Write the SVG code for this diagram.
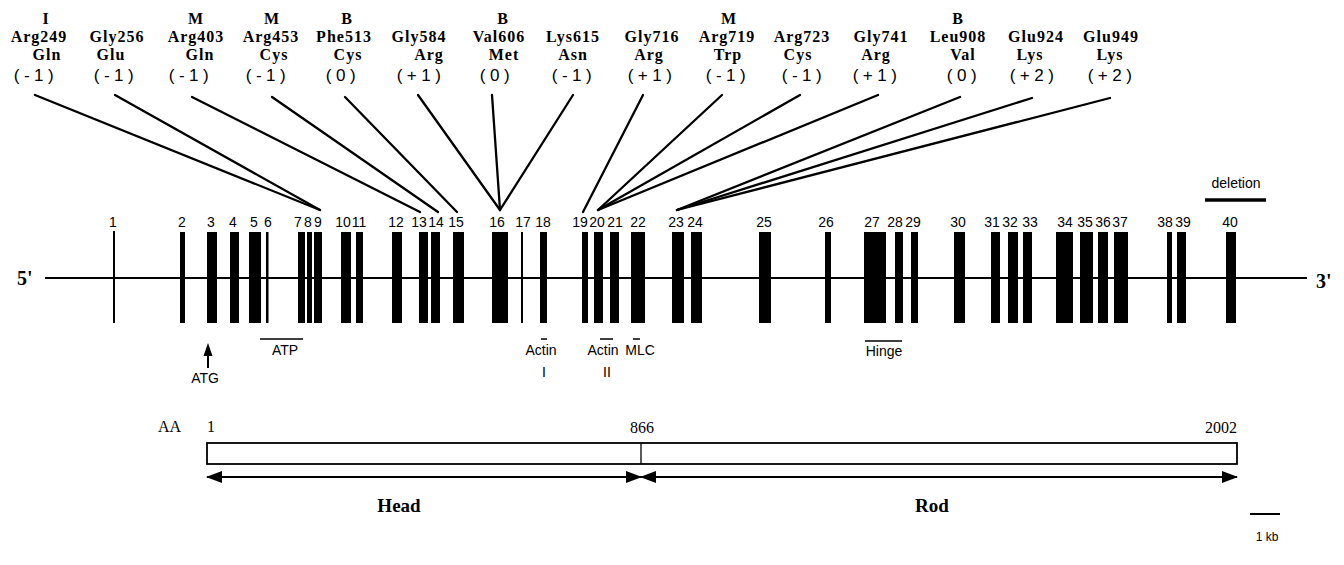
<svg xmlns="http://www.w3.org/2000/svg" width="1344" height="565" viewBox="0 0 1344 565">
<style>
.mut{font-family:"Liberation Serif","Times New Roman",serif;font-weight:bold;font-size:16px;letter-spacing:1px;text-anchor:middle;fill:#000}
.chg{font-family:"Liberation Sans",Arial,sans-serif;font-size:17px;letter-spacing:4.5px;text-anchor:middle;fill:#000}
.num{font-family:"Liberation Sans",Arial,sans-serif;font-size:14px;text-anchor:middle;fill:#000}
.lab{font-family:"Liberation Sans",Arial,sans-serif;font-size:14px;text-anchor:middle;fill:#000}
.end{font-family:"Liberation Serif","Times New Roman",serif;font-weight:bold;font-size:20px;fill:#000}
.aa{font-family:"Liberation Serif","Times New Roman",serif;font-size:16px;fill:#000}
.dom{font-family:"Liberation Serif","Times New Roman",serif;font-weight:bold;font-size:19px;text-anchor:middle;fill:#000}
.con{stroke:#000;stroke-width:2.3;fill:none;stroke-linecap:round}
.ex{fill:#000}
.ol{stroke:#000;stroke-width:1.5}
</style>
<defs>
<marker id="ah" viewBox="0 0 16 12" refX="15" refY="6" markerWidth="16" markerHeight="12" markerUnits="userSpaceOnUse" orient="auto-start-reverse">
<path d="M0,0 L16,6 L0,12 Z" fill="#000"/>
</marker>
</defs>

<!-- mutation labels -->
<g id="m1"><text class="mut" x="46" y="24">I</text><text class="mut" x="39" y="42">Arg249</text><text class="mut" x="47" y="60">Gln</text><text class="chg" x="36" y="81">(-1)</text></g>
<g id="m2"><text class="mut" x="117" y="42">Gly256</text><text class="mut" x="111" y="60">Glu</text><text class="chg" x="116" y="81">(-1)</text></g>
<g id="m3"><text class="mut" x="196" y="24">M</text><text class="mut" x="196" y="42">Arg403</text><text class="mut" x="200" y="60">Gln</text><text class="chg" x="191" y="81">(-1)</text></g>
<g id="m4"><text class="mut" x="272" y="24">M</text><text class="mut" x="271" y="42">Arg453</text><text class="mut" x="274" y="60">Cys</text><text class="chg" x="268" y="81">(-1)</text></g>
<g id="m5"><text class="mut" x="347" y="24">B</text><text class="mut" x="344" y="42">Phe513</text><text class="mut" x="348" y="60">Cys</text><text class="chg" x="343" y="81">(0)</text></g>
<g id="m6"><text class="mut" x="419" y="42">Gly584</text><text class="mut" x="429" y="60">Arg</text><text class="chg" x="421" y="81">(+1)</text></g>
<g id="m7"><text class="mut" x="503" y="24">B</text><text class="mut" x="499" y="42">Val606</text><text class="mut" x="504" y="60">Met</text><text class="chg" x="497" y="81">(0)</text></g>
<g id="m8"><text class="mut" x="573" y="42">Lys615</text><text class="mut" x="573" y="60">Asn</text><text class="chg" x="574" y="81">(-1)</text></g>
<g id="m9"><text class="mut" x="652" y="42">Gly716</text><text class="mut" x="649" y="60">Arg</text><text class="chg" x="652" y="81">(+1)</text></g>
<g id="m10"><text class="mut" x="729" y="24">M</text><text class="mut" x="727" y="42">Arg719</text><text class="mut" x="728" y="60">Trp</text><text class="chg" x="728" y="81">(-1)</text></g>
<g id="m11"><text class="mut" x="802" y="42">Arg723</text><text class="mut" x="798" y="60">Cys</text><text class="chg" x="804" y="81">(-1)</text></g>
<g id="m12"><text class="mut" x="881" y="42">Gly741</text><text class="mut" x="876" y="60">Arg</text><text class="chg" x="877" y="81">(+1)</text></g>
<g id="m13"><text class="mut" x="958" y="24">B</text><text class="mut" x="958" y="42">Leu908</text><text class="mut" x="963" y="60">Val</text><text class="chg" x="964" y="81">(0)</text></g>
<g id="m14"><text class="mut" x="1036" y="42">Glu924</text><text class="mut" x="1030" y="60">Lys</text><text class="chg" x="1034" y="81">(+2)</text></g>
<g id="m15"><text class="mut" x="1111" y="42">Glu949</text><text class="mut" x="1110" y="60">Lys</text><text class="chg" x="1112" y="81">(+2)</text></g>

<!-- connectors -->
<g id="connectors" class="con">
<line x1="35" y1="95" x2="320" y2="210"/>
<line x1="115" y1="95" x2="320" y2="210"/>
<line x1="192" y1="97" x2="420" y2="212"/>
<line x1="272" y1="97" x2="438" y2="212"/>
<line x1="345" y1="97" x2="457" y2="212"/>
<line x1="418" y1="95" x2="500" y2="210"/>
<line x1="492" y1="95" x2="500" y2="210"/>
<line x1="573" y1="95" x2="500" y2="210"/>
<line x1="643" y1="95" x2="583" y2="212"/>
<line x1="722" y1="95" x2="598" y2="210"/>
<line x1="800" y1="95" x2="598" y2="210"/>
<line x1="878" y1="95" x2="598" y2="210"/>
<line x1="960" y1="97" x2="677" y2="210"/>
<line x1="1032" y1="98" x2="677" y2="210"/>
<line x1="1110" y1="98" x2="677" y2="210"/>
</g>

<!-- gene -->
<g id="gene">
<text class="end" x="17" y="285">5'</text>
<text class="end" x="1316" y="288">3'</text>
<line x1="45" y1="278" x2="1307" y2="278" stroke="#000" stroke-width="2"/>
</g>

<g id="exons">
<rect class="ex" x="113" y="231" width="2" height="92"/>
<rect class="ex" x="180" y="232" width="5" height="91"/>
<rect class="ex" x="207" y="232" width="10" height="91"/>
<rect class="ex" x="230" y="232" width="9" height="91"/>
<rect class="ex" x="249" y="232" width="12" height="91"/>
<rect class="ex" x="266" y="232" width="2.5" height="91"/>
<rect class="ex" x="298" y="232" width="7" height="91"/>
<rect class="ex" x="307" y="232" width="5" height="91"/>
<rect class="ex" x="314" y="232" width="8" height="91"/>
<rect class="ex" x="341" y="232" width="10" height="91"/>
<rect class="ex" x="356" y="232" width="7" height="91"/>
<rect class="ex" x="392" y="232" width="10" height="91"/>
<rect class="ex" x="419" y="232" width="9" height="91"/>
<rect class="ex" x="431" y="232" width="9" height="91"/>
<rect class="ex" x="453" y="232" width="11" height="91"/>
<rect class="ex" x="492" y="232" width="16" height="91"/>
<rect class="ex" x="521" y="232" width="2" height="91"/>
<rect class="ex" x="540" y="232" width="7" height="91"/>
<rect class="ex" x="582" y="232" width="6" height="91"/>
<rect class="ex" x="594" y="232" width="9" height="91"/>
<rect class="ex" x="610" y="232" width="9" height="91"/>
<rect class="ex" x="631" y="232" width="14" height="91"/>
<rect class="ex" x="672" y="232" width="12" height="91"/>
<rect class="ex" x="691" y="232" width="11" height="91"/>
<rect class="ex" x="759" y="232" width="12" height="91"/>
<rect class="ex" x="825" y="232" width="6" height="91"/>
<rect class="ex" x="864" y="232" width="22" height="91"/>
<rect class="ex" x="895" y="232" width="8" height="91"/>
<rect class="ex" x="911" y="232" width="7" height="91"/>
<rect class="ex" x="954" y="232" width="11" height="91"/>
<rect class="ex" x="991" y="232" width="9" height="91"/>
<rect class="ex" x="1008" y="232" width="10" height="91"/>
<rect class="ex" x="1023" y="232" width="9" height="91"/>
<rect class="ex" x="1056" y="232" width="17" height="91"/>
<rect class="ex" x="1080" y="232" width="13" height="91"/>
<rect class="ex" x="1098" y="232" width="10" height="91"/>
<rect class="ex" x="1114" y="232" width="14" height="91"/>
<rect class="ex" x="1167" y="232" width="5" height="91"/>
<rect class="ex" x="1177" y="232" width="9" height="91"/>
<rect class="ex" x="1226" y="232" width="10" height="91"/>
</g>

<g id="exon-numbers">
<text class="num" x="113" y="227">1</text>
<text class="num" x="182" y="227">2</text>
<text class="num" x="211" y="227">3</text>
<text class="num" x="233" y="227">4</text>
<text class="num" x="254" y="227">5</text>
<text class="num" x="268" y="227">6</text>
<text class="num" x="298" y="227">7</text>
<text class="num" x="308" y="227">8</text>
<text class="num" x="318" y="227">9</text>
<text class="num" x="343" y="227">10</text>
<text class="num" x="359" y="227">11</text>
<text class="num" x="396" y="227">12</text>
<text class="num" x="419" y="227">13</text>
<text class="num" x="436" y="227">14</text>
<text class="num" x="456" y="227">15</text>
<text class="num" x="497" y="227">16</text>
<text class="num" x="523" y="227">17</text>
<text class="num" x="543" y="227">18</text>
<text class="num" x="580" y="227">19</text>
<text class="num" x="597" y="227">20</text>
<text class="num" x="615" y="227">21</text>
<text class="num" x="638" y="227">22</text>
<text class="num" x="676" y="227">23</text>
<text class="num" x="695" y="227">24</text>
<text class="num" x="764" y="227">25</text>
<text class="num" x="826" y="227">26</text>
<text class="num" x="872" y="227">27</text>
<text class="num" x="895" y="227">28</text>
<text class="num" x="913" y="227">29</text>
<text class="num" x="958" y="227">30</text>
<text class="num" x="992" y="227">31</text>
<text class="num" x="1010" y="227">32</text>
<text class="num" x="1030" y="227">33</text>
<text class="num" x="1065" y="227">34</text>
<text class="num" x="1085" y="227">35</text>
<text class="num" x="1103" y="227">36</text>
<text class="num" x="1120" y="227">37</text>
<text class="num" x="1165" y="227">38</text>
<text class="num" x="1183" y="227">39</text>
<text class="num" x="1230" y="227">40</text>
</g>

<g id="deletion">
<text class="lab" x="1236" y="188">deletion</text>
<line x1="1205" y1="200" x2="1266" y2="200" stroke="#000" stroke-width="3.5"/>
</g>

<g id="atg">
<line x1="208" y1="352" x2="208" y2="368" stroke="#000" stroke-width="2"/>
<path d="M208,343 L212.5,356 L203.5,356 Z" fill="#000"/>
<text class="lab" x="205" y="383">ATG</text>
</g>
<g id="atp"><line class="ol" x1="260" y1="339" x2="303" y2="339"/><text class="lab" x="285" y="355">ATP</text></g>
<g id="actin1"><line class="ol" x1="541" y1="339" x2="547" y2="339"/><text class="lab" x="541" y="355">Actin</text><text class="lab" x="544" y="377">I</text></g>
<g id="actin2"><line class="ol" x1="600" y1="339" x2="613" y2="339"/><text class="lab" x="603" y="355">Actin</text><text class="lab" x="607" y="377">II</text></g>
<g id="mlc"><line class="ol" x1="633" y1="339" x2="640" y2="339"/><text class="lab" x="640" y="355">MLC</text></g>
<g id="hinge"><line class="ol" x1="865" y1="341" x2="902" y2="341"/><text class="lab" x="884" y="356">Hinge</text></g>

<g id="protein">
<text class="aa" x="158" y="432">AA</text>
<text class="aa" x="207" y="432">1</text>
<text class="aa" x="642" y="433" text-anchor="middle">866</text>
<text class="aa" x="1221" y="433" text-anchor="middle">2002</text>
<rect x="207" y="443" width="1030" height="21" fill="#fff" stroke="#000" stroke-width="1.8"/>
<line x1="641" y1="443" x2="641" y2="464" stroke="#000" stroke-width="1.3"/>
</g>
<g id="head">
<line x1="207" y1="477" x2="641" y2="477" stroke="#000" stroke-width="2" marker-start="url(#ah)" marker-end="url(#ah)"/>
<text class="dom" x="399" y="512">Head</text>
</g>
<g id="rod">
<line x1="641" y1="477" x2="1237" y2="477" stroke="#000" stroke-width="2" marker-start="url(#ah)" marker-end="url(#ah)"/>
<text class="dom" x="932" y="512">Rod</text>
</g>
<g id="scale">
<line x1="1250" y1="514" x2="1280" y2="514" stroke="#000" stroke-width="2"/>
<text class="lab" x="1267" y="541" style="font-size:12px">1 kb</text>
</g>
</svg>
